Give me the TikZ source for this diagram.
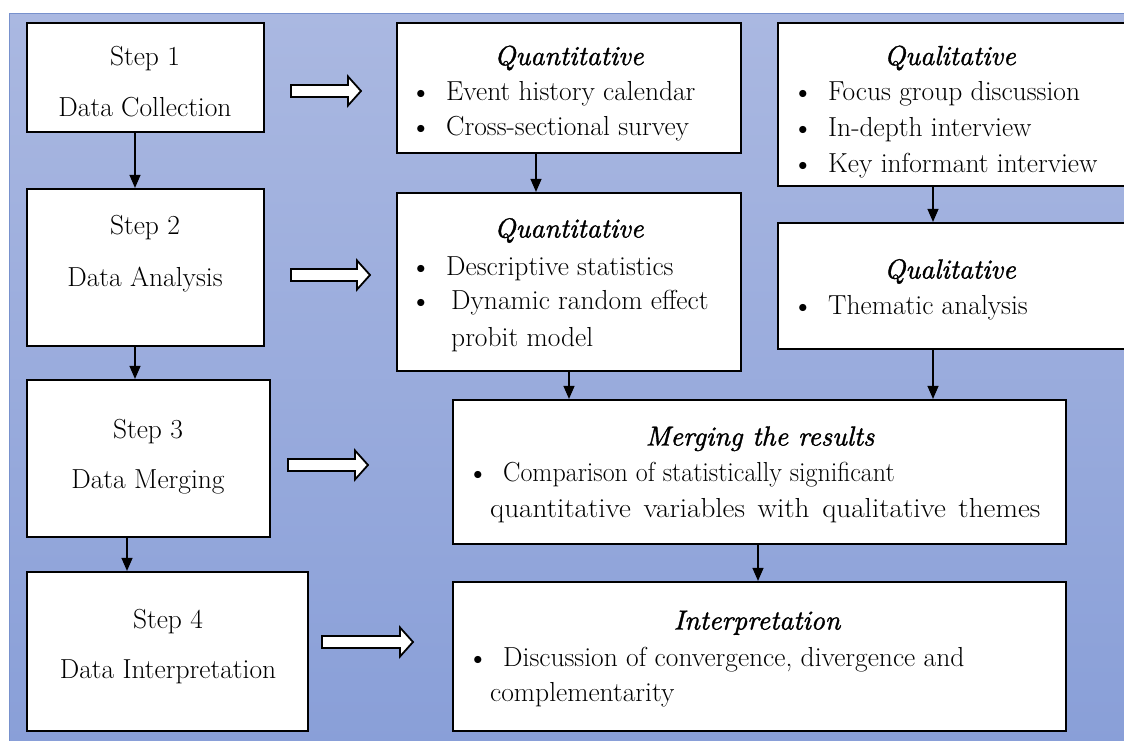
\documentclass[tikz,border=0pt]{standalone}
\usepackage{fontspec}
\usepackage{graphicx}
\usetikzlibrary{arrows.meta}
\newfontfamily\hfont{lmroman10-italic.otf}[FakeBold=1.3]
\definecolor{bgtop}{RGB}{170,184,225}
\definecolor{bgbot}{RGB}{137,159,216}
\definecolor{bgline}{RGB}{120,145,205}
\tikzset{
  x=1pt, y=-1pt,
  box/.style={draw=black, line width=2.2pt, fill=white, inner sep=0pt},
  txt/.style={font=\fontsize{27.5}{32}\selectfont, inner sep=0pt, anchor=base west},
  ctxt/.style={font=\fontsize{27.5}{32}\selectfont, inner sep=0pt, anchor=base},
  head/.style={font=\fontsize{27.5}{32}\selectfont\hfont, inner sep=0pt, anchor=base},
  bul/.style={font=\fontsize{32}{36}\selectfont, inner sep=0pt, anchor=base},
  conn/.style={line width=1.2pt, -{Triangle[length=13pt,width=11pt]}},
  barrow/.style={draw=black, line width=1.8pt, fill=white, line join=miter}
}
\newcommand{\blockarr}[3]{%
  \draw[barrow] (#1,#2-6) -- (#1+#3-13,#2-6) -- (#1+#3-13,#2-14.5) -- (#1+#3,#2)
    -- (#1+#3-13,#2+14.5) -- (#1+#3-13,#2+6) -- (#1,#2+6) -- cycle;}
\begin{document}
\begin{tikzpicture}
\useasboundingbox (0,0) rectangle (1124,740);
\shade[top color=bgtop, bottom color=bgbot] (9,13) rectangle (1130,745);
\draw[bgline, line width=1pt] (9,745) -- (9,13) -- (1130,13);

% left column
\node[box, minimum width=237pt, minimum height=109pt] (s1) at (145.5,77.5) {};
\node[box, minimum width=237pt, minimum height=157pt] (s2) at (145.5,267.5) {};
\node[box, minimum width=243pt, minimum height=157pt] (s3) at (148.5,458.5) {};
\node[box, minimum width=281pt, minimum height=159pt] (s4) at (167.5,651.5) {};

\node[ctxt] (s1a) at (145,65) {Step 1};
\node[ctxt] (s1b) at (145,116) {Data Collection};
\node[ctxt] (s2a) at (145,234) {Step 2};
\node[ctxt] (s2b) at (145,286) {Data Analysis};
\node[ctxt] (s3a) at (148,438) {Step 3};
\node[ctxt] (s3b) at (148,488) {Data Merging};
\node[ctxt] (s4a) at (168,628) {Step 4};
\node[ctxt] (s4b) at (168,678) {Data Interpretation};

% right boxes
\node[box, minimum width=344pt, minimum height=130pt] (q1) at (569,88) {};
\node[box, minimum width=352pt, minimum height=163pt] (l1) at (954,104.5) {};
\node[box, minimum width=344pt, minimum height=178pt] (q2) at (569,282) {};
\node[box, minimum width=352pt, minimum height=126pt] (l2) at (954,286) {};
\node[box, minimum width=613pt, minimum height=144pt] (m) at (759.5,472) {};
\node[box, minimum width=613pt, minimum height=149pt] (i) at (759.5,656.5) {};

\node[head] (q1h) at (569,65) {Quantitative};
\node[bul] (q1b1) at (421,102) {\textbullet};
\node[txt] (q1t1) at (446,100) {Event history calendar};
\node[bul] (q1b2) at (421,137) {\textbullet};
\node[txt] (q1t2) at (446,135) {Cross-sectional survey};

\node[head] (l1h) at (950,65) {Qualitative};
\node[bul] (l1b1) at (803,102) {\textbullet};
\node[txt] (l1t1) at (828,100) {Focus group discussion};
\node[bul] (l1b2) at (803,138) {\textbullet};
\node[txt] (l1t2) at (828,136) {In-depth interview};
\node[bul] (l1b3) at (803,174) {\textbullet};
\node[txt] (l1t3) at (828,172) {Key informant interview};

\node[head] (q2h) at (569,237.5) {Quantitative};
\node[bul] (q2b1) at (421,277) {\textbullet};
\node[txt] (q2t1) at (446,275) {Descriptive statistics};
\node[bul] (q2b2) at (421,311.5) {\textbullet};
\node[txt] (q2t2) at (451,309.5) {Dynamic random effect};
\node[txt] (q2t3) at (451,346.5) {probit model};

\node[head] (l2h) at (950,278.5) {Qualitative};
\node[bul] (l2b1) at (803,316.5) {\textbullet};
\node[txt] (l2t1) at (828,314.5) {Thematic analysis};

\node[head] (mh) at (760,445.5) {Merging the results};
\node[bul] (mb1) at (478,483.5) {\textbullet};
\node[txt] (mt1) at (503,481.5) {\scalebox{0.945}[1]{Comparison of statistically significant}};
\node[txt] (mt2) at (490,517.5) {\scalebox{1.06}[1]{\makebox[519pt][s]{quantitative variables with qualitative themes}}};

\node[head] (ih) at (757,629.5) {Interpretation};
\node[bul] (ib1) at (478,668.5) {\textbullet};
\node[txt] (it1) at (503,666.5) {Discussion of convergence, divergence and};
\node[txt] (it2) at (490,701.5) {complementarity};

% connectors
\draw[conn] ([xshift=-10.5pt]s1.south) -- ([xshift=-10.5pt]s2.north);
\draw[conn] ([xshift=-10.5pt]s2.south) -- ([xshift=-13.5pt]s3.north);
\draw[conn] ([xshift=-21.5pt]s3.south) -- ([xshift=-40.5pt]s4.north);
\draw[conn] ([xshift=-33pt]q1.south) -- ([xshift=-33pt]q2.north);
\draw[conn] ([xshift=-21pt]l1.south) -- ([xshift=-21pt]l2.north);
\draw[conn] (q2.south) -- ([xshift=-190.5pt]m.north);
\draw[conn] ([xshift=-21pt]l2.south) -- ([xshift=173.5pt]m.north);
\draw[conn] ([xshift=-1.5pt]m.south) -- ([xshift=-1.5pt]i.north);

% block arrows
\blockarr{291}{91}{70}
\blockarr{291}{275}{79}
\blockarr{288}{465}{80}
\blockarr{322}{642}{91}
\end{tikzpicture}
\end{document}
